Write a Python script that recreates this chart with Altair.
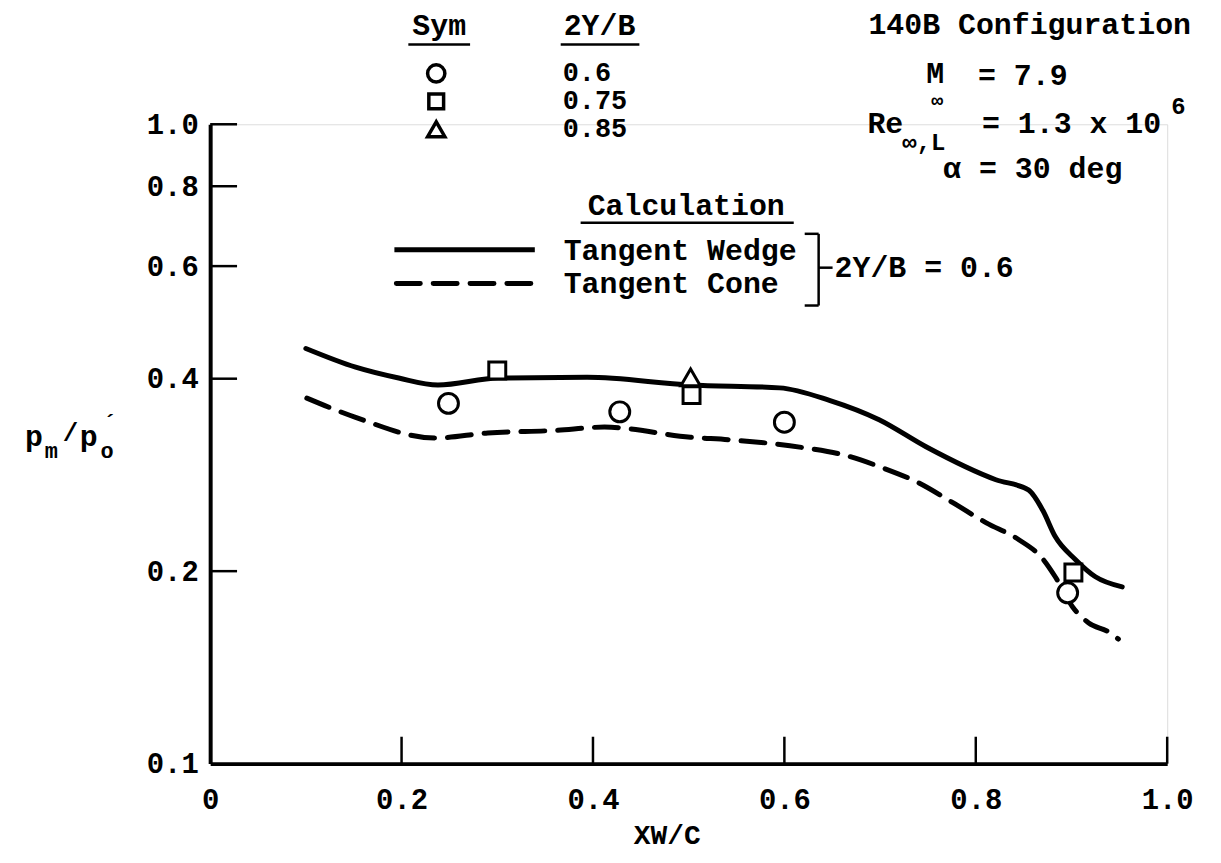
import altair as alt
import pandas as pd

# ---------------- data ----------------
wedge_x = [0.100, 0.152, 0.197, 0.238, 0.301, 0.394, 0.502, 0.595, 0.647, 0.699,
           0.748, 0.821, 0.855, 0.870, 0.883, 0.904, 0.925, 0.953]
wedge_y = [0.446, 0.417, 0.401, 0.391, 0.401, 0.402, 0.391, 0.387, 0.370, 0.345,
           0.313, 0.278, 0.268, 0.249, 0.2265, 0.2086, 0.196, 0.189]

cone_x = [0.101, 0.152, 0.235, 0.290, 0.360, 0.412, 0.502, 0.543, 0.620, 0.662,
          0.703, 0.738, 0.776, 0.811, 0.845, 0.870, 0.883, 0.901, 0.918, 0.939, 0.949]
cone_y = [0.373, 0.348, 0.323, 0.329, 0.332, 0.336, 0.324, 0.321, 0.312, 0.304,
          0.290, 0.276, 0.256, 0.238, 0.224, 0.209, 0.196, 0.176, 0.166, 0.1606, 0.1566]

circle_x = [0.249, 0.428, 0.600, 0.896]
circle_y = [0.366, 0.355, 0.342, 0.185]
square_x = [0.300, 0.503, 0.902]
square_y = [0.412, 0.377, 0.199]
triangle_x = [0.502]
triangle_y = [0.402]

x_tick_values = [0, 0.2, 0.4, 0.6, 0.8, 1.0]
y_tick_values = [0.1, 0.2, 0.4, 0.6, 0.8, 1.0]
x_inner_ticks = [0.2, 0.4, 0.6, 0.8, 1.0]
y_inner_ticks = [0.2, 0.4, 0.6, 0.8, 1.0]

legend_sym_labels = ["0.6", "0.75", "0.85"]

# ---------------- layout ----------------
FONT = "Liberation Mono"
FS = 30
W, H = 961, 642
OX, OY = 211, 123


def px(x):
    return x - OX


def py(y):
    return y - OY


one = pd.DataFrame({"k": [0]})

xs = alt.Scale(domain=[0, 1], nice=False, zero=False)
ys = alt.Scale(type="log", domain=[0.1, 1.0], nice=False)

xaxis = alt.Axis(values=x_tick_values,
                 labelExpr="datum.value == 0 ? '0' : format(datum.value, '.1f')",
                 ticks=False, grid=False, domainWidth=4, domainColor="black",
                 labelFont=FONT, labelFontSize=29, labelFontWeight="bold",
                 labelColor="black", labelPadding=22, title=None,
                 labelFlush=False, labelOverlap=False)
yaxis = alt.Axis(values=y_tick_values, format=".1f",
                 ticks=False, grid=False, domainWidth=4, domainColor="black",
                 labelFont=FONT, labelFontSize=29, labelFontWeight="bold",
                 labelColor="black", labelPadding=12, title=None,
                 labelFlush=False, labelOverlap=False)


def X(field="x"):
    return alt.X(f"{field}:Q", scale=xs, axis=xaxis)


def Y(field="y"):
    return alt.Y(f"{field}:Q", scale=ys, axis=yaxis)


def txt(s, x, y, size=FS, align="left", font=FONT, weight="bold"):
    return alt.Chart(one).mark_text(
        text=s, align=align, baseline="middle", fontSize=size, font=font,
        fontWeight=weight, color="black"
    ).encode(x=alt.value(px(x)), y=alt.value(py(y)))


def hline(x1, x2, y, w=2.5, dash=None):
    kw = dict(color="black", strokeWidth=w)
    if dash:
        kw["strokeDash"] = dash
        kw["strokeCap"] = "round"
    return alt.Chart(one).mark_rule(**kw).encode(
        x=alt.value(px(x1)), x2=alt.value(px(x2)), y=alt.value(py(y)))


def vline(x, y1, y2, w=2.5):
    return alt.Chart(one).mark_rule(color="black", strokeWidth=w).encode(
        x=alt.value(px(x)), y=alt.value(py(y1)), y2=alt.value(py(y2)))


def sym(shape, x, y, size):
    return alt.Chart(one).mark_point(
        shape=shape, filled=False, color="black", strokeWidth=3.5, size=size,
        opacity=1
    ).encode(x=alt.value(px(x)), y=alt.value(py(y)))


wedge_df = pd.DataFrame({"x": wedge_x, "y": wedge_y})
cone_df = pd.DataFrame({"x": cone_x, "y": cone_y})

wedge = alt.Chart(wedge_df).mark_line(
    color="black", strokeWidth=5, interpolate="monotone", strokeCap="round"
).encode(x=X(), y=Y())
cone = alt.Chart(cone_df).mark_line(
    color="black", strokeWidth=5, interpolate="monotone", strokeDash=[24, 13],
    strokeCap="round"
).encode(x=X(), y=Y())


def pts(xv, yv, shape, size):
    return alt.Chart(pd.DataFrame({"x": xv, "y": yv})).mark_point(
        shape=shape, filled=True, fill="white", stroke="black", strokeWidth=3,
        size=size, opacity=1
    ).encode(x=X(), y=Y())


circles = pts(circle_x, circle_y, "circle", 400)
squares = pts(square_x, square_y, "square", 290)
triangles = pts(triangle_x, triangle_y, "triangle-up", 380)

xticks = alt.Chart(pd.DataFrame({"x": x_inner_ticks})).mark_rule(
    color="black", strokeWidth=2.5
).encode(x=X(), y=alt.value(H), y2=alt.value(H - 27))
yticks = alt.Chart(pd.DataFrame({"y": y_inner_ticks})).mark_rule(
    color="black", strokeWidth=2.5
).encode(y=Y(), x=alt.value(0), x2=alt.value(27))

annots = [
    # symbol table
    txt("Sym", 441, 24, align="center"),
    hline(410, 472, 43),
    txt("2Y/B", 602, 24, align="center"),
    hline(563, 642, 43),
    sym("circle", 438, 72, 300),
    sym("square", 438, 100, 220),
    sym("triangle-up", 438, 128, 300),
    txt(legend_sym_labels[0], 565, 72, size=27),
    txt(legend_sym_labels[1], 565, 100, size=27),
    txt(legend_sym_labels[2], 565, 128, size=27),
    # conditions
    txt("140B Configuration", 872, 23),
    txt("M", 930, 73),
    txt("∞", 935, 100, size=20),
    txt("= 7.9", 982, 75),
    txt("Re", 871, 123),
    txt("∞,L", 906, 142, size=24),
    txt("= 1.3 x 10", 986, 123),
    txt("6", 1176, 106, size=24),
    txt("α = 30 deg", 947, 168),
    # calculation legend
    txt("Calculation", 689, 205, align="center"),
    hline(583, 797, 222),
    hline(396, 537, 249, w=5),
    hline(398, 537, 283, w=5, dash=[24, 13]),
    txt("Tangent Wedge", 566, 250),
    txt("Tangent Cone", 566, 283),
    hline(808, 822, 233),
    vline(822, 233, 305),
    hline(808, 822, 305),
    hline(822, 836, 267),
    txt("2Y/B = 0.6", 838, 267),
    # axis titles
    txt("p", 25, 437),
    txt("m", 45, 451, size=22),
    txt("/", 63, 433, size=26),
    txt("p", 80, 437),
    txt("o", 101, 451, size=22),
    txt("´", 104, 423, size=22),
    txt("XW/C", 670, 838, size=28, align="center"),
]

chart = alt.layer(
    wedge, cone, xticks, yticks, circles, squares, triangles, *annots
).properties(
    width=W, height=H,
    autosize=alt.AutoSizeParams(type="none"),
    padding={"left": 203, "top": 115, "right": 46, "bottom": 90},
).configure_view(stroke=None).configure(background="white")

chart.save("out.html", embed_options={"renderer": "svg", "actions": False})
